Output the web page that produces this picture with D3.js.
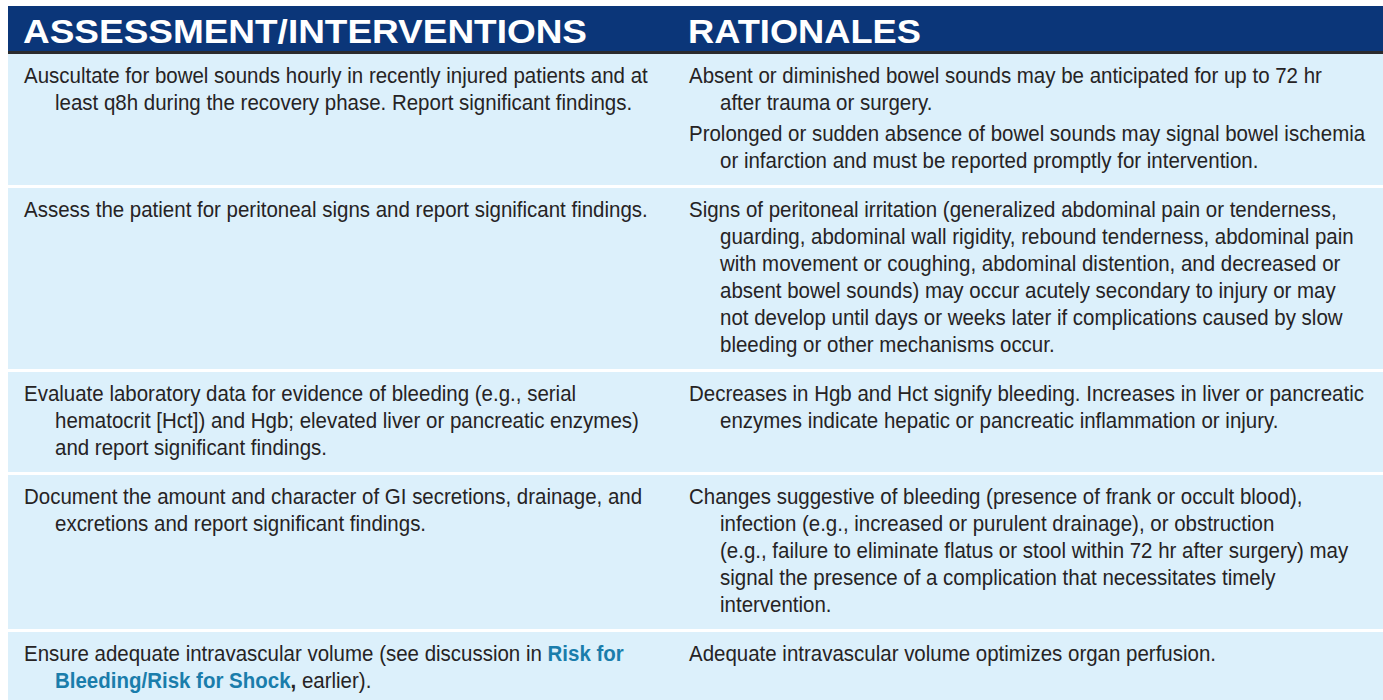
<!DOCTYPE html>
<html>
<head>
<meta charset="utf-8">
<script src="https://cdn.jsdelivr.net/npm/d3@7"></script>
<style>
  html, body { margin: 0; padding: 0; background: #ffffff; }
  svg { display: block; }
</style>
</head>
<body>
<svg id="chart" width="1383" height="700"></svg>
<script>
// ---------------- DATA ----------------
const headers = ["ASSESSMENT/INTERVENTIONS", "RATIONALES"];

// each row: list of lines; a line is a string or a list of [text, style] segments
const interventions = [
  ["Auscultate for bowel sounds hourly in recently injured patients and at",
   "least q8h during the recovery phase. Report significant findings."],
  ["Assess the patient for peritoneal signs and report significant findings."],
  ["Evaluate laboratory data for evidence of bleeding (e.g., serial",
   "hematocrit [Hct]) and Hgb; elevated liver or pancreatic enzymes)",
   "and report significant findings."],
  ["Document the amount and character of GI secretions, drainage, and",
   "excretions and report significant findings."],
  [[["Ensure adequate intravascular volume (see discussion in ", "n"], ["Risk for", "link"]],
   [["Bleeding/Risk for Shock", "link"], [",", "b"], [" earlier).", "n"]]]
];

// each row: list of paragraphs; each paragraph: list of lines
const rationales = [
  [["Absent or diminished bowel sounds may be anticipated for up to 72 hr",
    "after trauma or surgery."],
   ["Prolonged or sudden absence of bowel sounds may signal bowel ischemia",
    "or infarction and must be reported promptly for intervention."]],
  [["Signs of peritoneal irritation (generalized abdominal pain or tenderness,",
    "guarding, abdominal wall rigidity, rebound tenderness, abdominal pain",
    "with movement or coughing, abdominal distention, and decreased or",
    "absent bowel sounds) may occur acutely secondary to injury or may",
    "not develop until days or weeks later if complications caused by slow",
    "bleeding or other mechanisms occur."]],
  [["Decreases in Hgb and Hct signify bleeding. Increases in liver or pancreatic",
    "enzymes indicate hepatic or pancreatic inflammation or injury."]],
  [["Changes suggestive of bleeding (presence of frank or occult blood),",
    "infection (e.g., increased or purulent drainage), or obstruction",
    "(e.g., failure to eliminate flatus or stool within 72 hr after surgery) may",
    "signal the presence of a complication that necessitates timely",
    "intervention."]],
  [["Adequate intravascular volume optimizes organ perfusion."]]
];

// ---------------- LAYOUT ----------------
const W = 1383, H = 700;
const tableLeft = 8;
const headTop = 6, headBottom = 51, headRule = 3;
const lineH = 27, paraGap = 4, topPad = 29, botPad = 17, sep = 3;
const indent = 31;
const fontSize = 22;
const headFont = 33;

const colors = {
  head: "#0b3679",
  rule: "#2b2b2d",
  body: "#dcf0fb",
  text: "#262324",
  link: "#1a7dab"
};

const svg = d3.select("#chart");

// column x via an ordinal scale
const colX = d3.scaleOrdinal().domain(headers).range([24, 689]);
const headerWidth = d3.scaleOrdinal().domain(headers).range([564, 233]);

// calibrate the condensed horizontal scale
const probe = svg.append("text")
  .attr("font-family", "'Liberation Sans', Arial, sans-serif")
  .attr("font-size", fontSize)
  .text(rationales[0][0][0]);
const natural = probe.node().getComputedTextLength();
probe.remove();
const sx = 633 / natural;

// ---- header ----
svg.append("rect").attr("x", tableLeft).attr("y", headTop)
  .attr("width", W - tableLeft).attr("height", headBottom - headTop)
  .attr("fill", colors.head);
svg.append("rect").attr("x", tableLeft).attr("y", headBottom)
  .attr("width", W - tableLeft).attr("height", headRule)
  .attr("fill", colors.rule);

svg.selectAll("text.head").data(headers).join("text")
  .attr("class", "head")
  .attr("x", d => colX(d) - 1)
  .attr("y", 43)
  .attr("font-family", "'Liberation Sans', Arial, Helvetica, sans-serif")
  .attr("font-weight", "bold")
  .attr("font-size", headFont)
  .attr("fill", "#ffffff")
  .attr("textLength", d => headerWidth(d))
  .attr("lengthAdjust", "spacingAndGlyphs")
  .text(d => d);

// ---- rows ----
const rows = interventions.map((left, i) => {
  const paras = rationales[i];
  const rLines = d3.sum(paras, p => p.length);
  const rSpan = (rLines - 1) * lineH + (paras.length - 1) * paraGap;
  const lSpan = (left.length - 1) * lineH;
  return { left, paras, span: Math.max(rSpan, lSpan) };
});

let y = headBottom + headRule;
rows.forEach((r, i) => {
  r.top = y;
  r.h = topPad + r.span + botPad;
  if (i === rows.length - 1) r.h = H - y;
  y += r.h + sep;
});

const rowG = svg.selectAll("g.row").data(rows).join("g")
  .attr("class", "row")
  .attr("transform", d => `translate(0,${d.top})`);

rowG.append("rect")
  .attr("x", tableLeft).attr("y", 0)
  .attr("width", W - tableLeft).attr("height", d => d.h)
  .attr("fill", colors.body);

function drawLine(g, line, x, yy) {
  const t = g.append("text")
    .attr("transform", `translate(${x},${yy}) scale(${sx},1)`)
    .attr("font-family", "'Liberation Sans', Arial, sans-serif")
    .attr("font-size", fontSize)
    .attr("fill", colors.text);
  const segs = typeof line === "string" ? [[line, "n"]] : line;
  segs.forEach(([txt, style]) => {
    const ts = t.append("tspan").text(txt);
    if (style === "link") ts.attr("font-weight", "bold").attr("fill", colors.link);
    if (style === "b") ts.attr("font-weight", "bold");
  });
  t.attr("xml:space", "preserve").style("white-space", "pre");
}

rowG.each(function(d) {
  const g = d3.select(this);
  // left column
  d.left.forEach((line, j) => {
    drawLine(g, line, colX(headers[0]) + (j > 0 ? indent : 0), topPad + j * lineH);
  });
  // right column
  let yy = topPad;
  d.paras.forEach((p, pi) => {
    if (pi > 0) yy += paraGap;
    p.forEach((line, j) => {
      drawLine(g, line, colX(headers[1]) + (j > 0 ? indent : 0), yy);
      yy += lineH;
    });
  });
});
</script>
</body>
</html>
